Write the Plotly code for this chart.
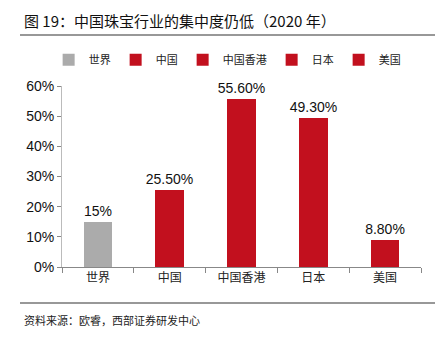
import plotly.graph_objects as go

categories = ["世界", "中国", "中国香港", "日本", "美国"]
values = [0.15, 0.255, 0.556, 0.493, 0.088]
labels = ["15%", "25.50%", "55.60%", "49.30%", "8.80%"]
colors = ["#ABABAB", "#C2101E", "#C2101E", "#C2101E", "#C2101E"]

W, H = 439, 337
L, R, T, B = 62, 18, 86, 70

fig = go.Figure()
for c, v, lab, col in zip(categories, values, labels, colors):
    fig.add_trace(go.Bar(
        x=[c], y=[v], name=c, marker_color=col, marker_line_width=0,
        width=0.4, text=[lab], textposition="outside", cliponaxis=False,
        constraintext="none",
        textfont=dict(family="Liberation Sans, Arial", size=14, color="#111"),
    ))

cjk = "Noto Sans CJK SC"
fig.update_layout(
    width=W, height=H, margin=dict(l=L, r=R, t=T, b=B),
    paper_bgcolor="white", plot_bgcolor="white",
    barmode="overlay", bargap=0,
    showlegend=True,
    legend=dict(orientation="h", x=0.46, xanchor="center", y=1.145, yanchor="middle",
                font=dict(family=cjk, size=11, color="#222"), itemwidth=30,
                tracegroupgap=0, traceorder="normal", itemsizing="constant"),
    xaxis=dict(categoryorder="array", categoryarray=categories, showline=True,
               linecolor="#888", linewidth=1, ticks="outside", tickson="boundaries",
               ticklen=5, tickcolor="#888",
               tickfont=dict(family=cjk, size=12, color="#222"), showgrid=False),
    yaxis=dict(range=[0, 0.6], dtick=0.1, tickformat=".0%", showline=True,
               linecolor="#BBB", linewidth=1, ticks="outside", ticklen=4, tickcolor="#888",
               showgrid=False, zeroline=False,
               tickfont=dict(family="Liberation Sans, Arial", size=14, color="#111")),
    font=dict(family=cjk),
)

fig.add_annotation(text="图 19：中国珠宝行业的集中度仍低（2020 年）", xref="paper", yref="paper",
                   x=(22 - L) / (W - L - R), y=(H - B - 20) / (H - T - B), xanchor="left",
                   yanchor="middle", showarrow=False,
                   font=dict(family=cjk, size=15, color="#111"))
fig.add_annotation(text="资料来源：欧睿，西部证券研发中心", xref="paper", yref="paper",
                   x=(22 - L) / (W - L - R), y=(H - B - 320) / (H - T - B), xanchor="left",
                   yanchor="middle", showarrow=False,
                   font=dict(family=cjk, size=11, color="#222"))
fig.add_shape(type="line", xref="paper", yref="paper",
              x0=(20 - L) / (W - L - R), x1=(435 - L) / (W - L - R),
              y0=(H - B - 35) / (H - T - B), y1=(H - B - 35) / (H - T - B),
              line=dict(color="#333", width=1.2))
fig.add_shape(type="line", xref="paper", yref="paper",
              x0=(20 - L) / (W - L - R), x1=(435 - L) / (W - L - R),
              y0=(H - B - 303) / (H - T - B), y1=(H - B - 303) / (H - T - B),
              line=dict(color="#333", width=1.2))

fig.write_html("out.html")
